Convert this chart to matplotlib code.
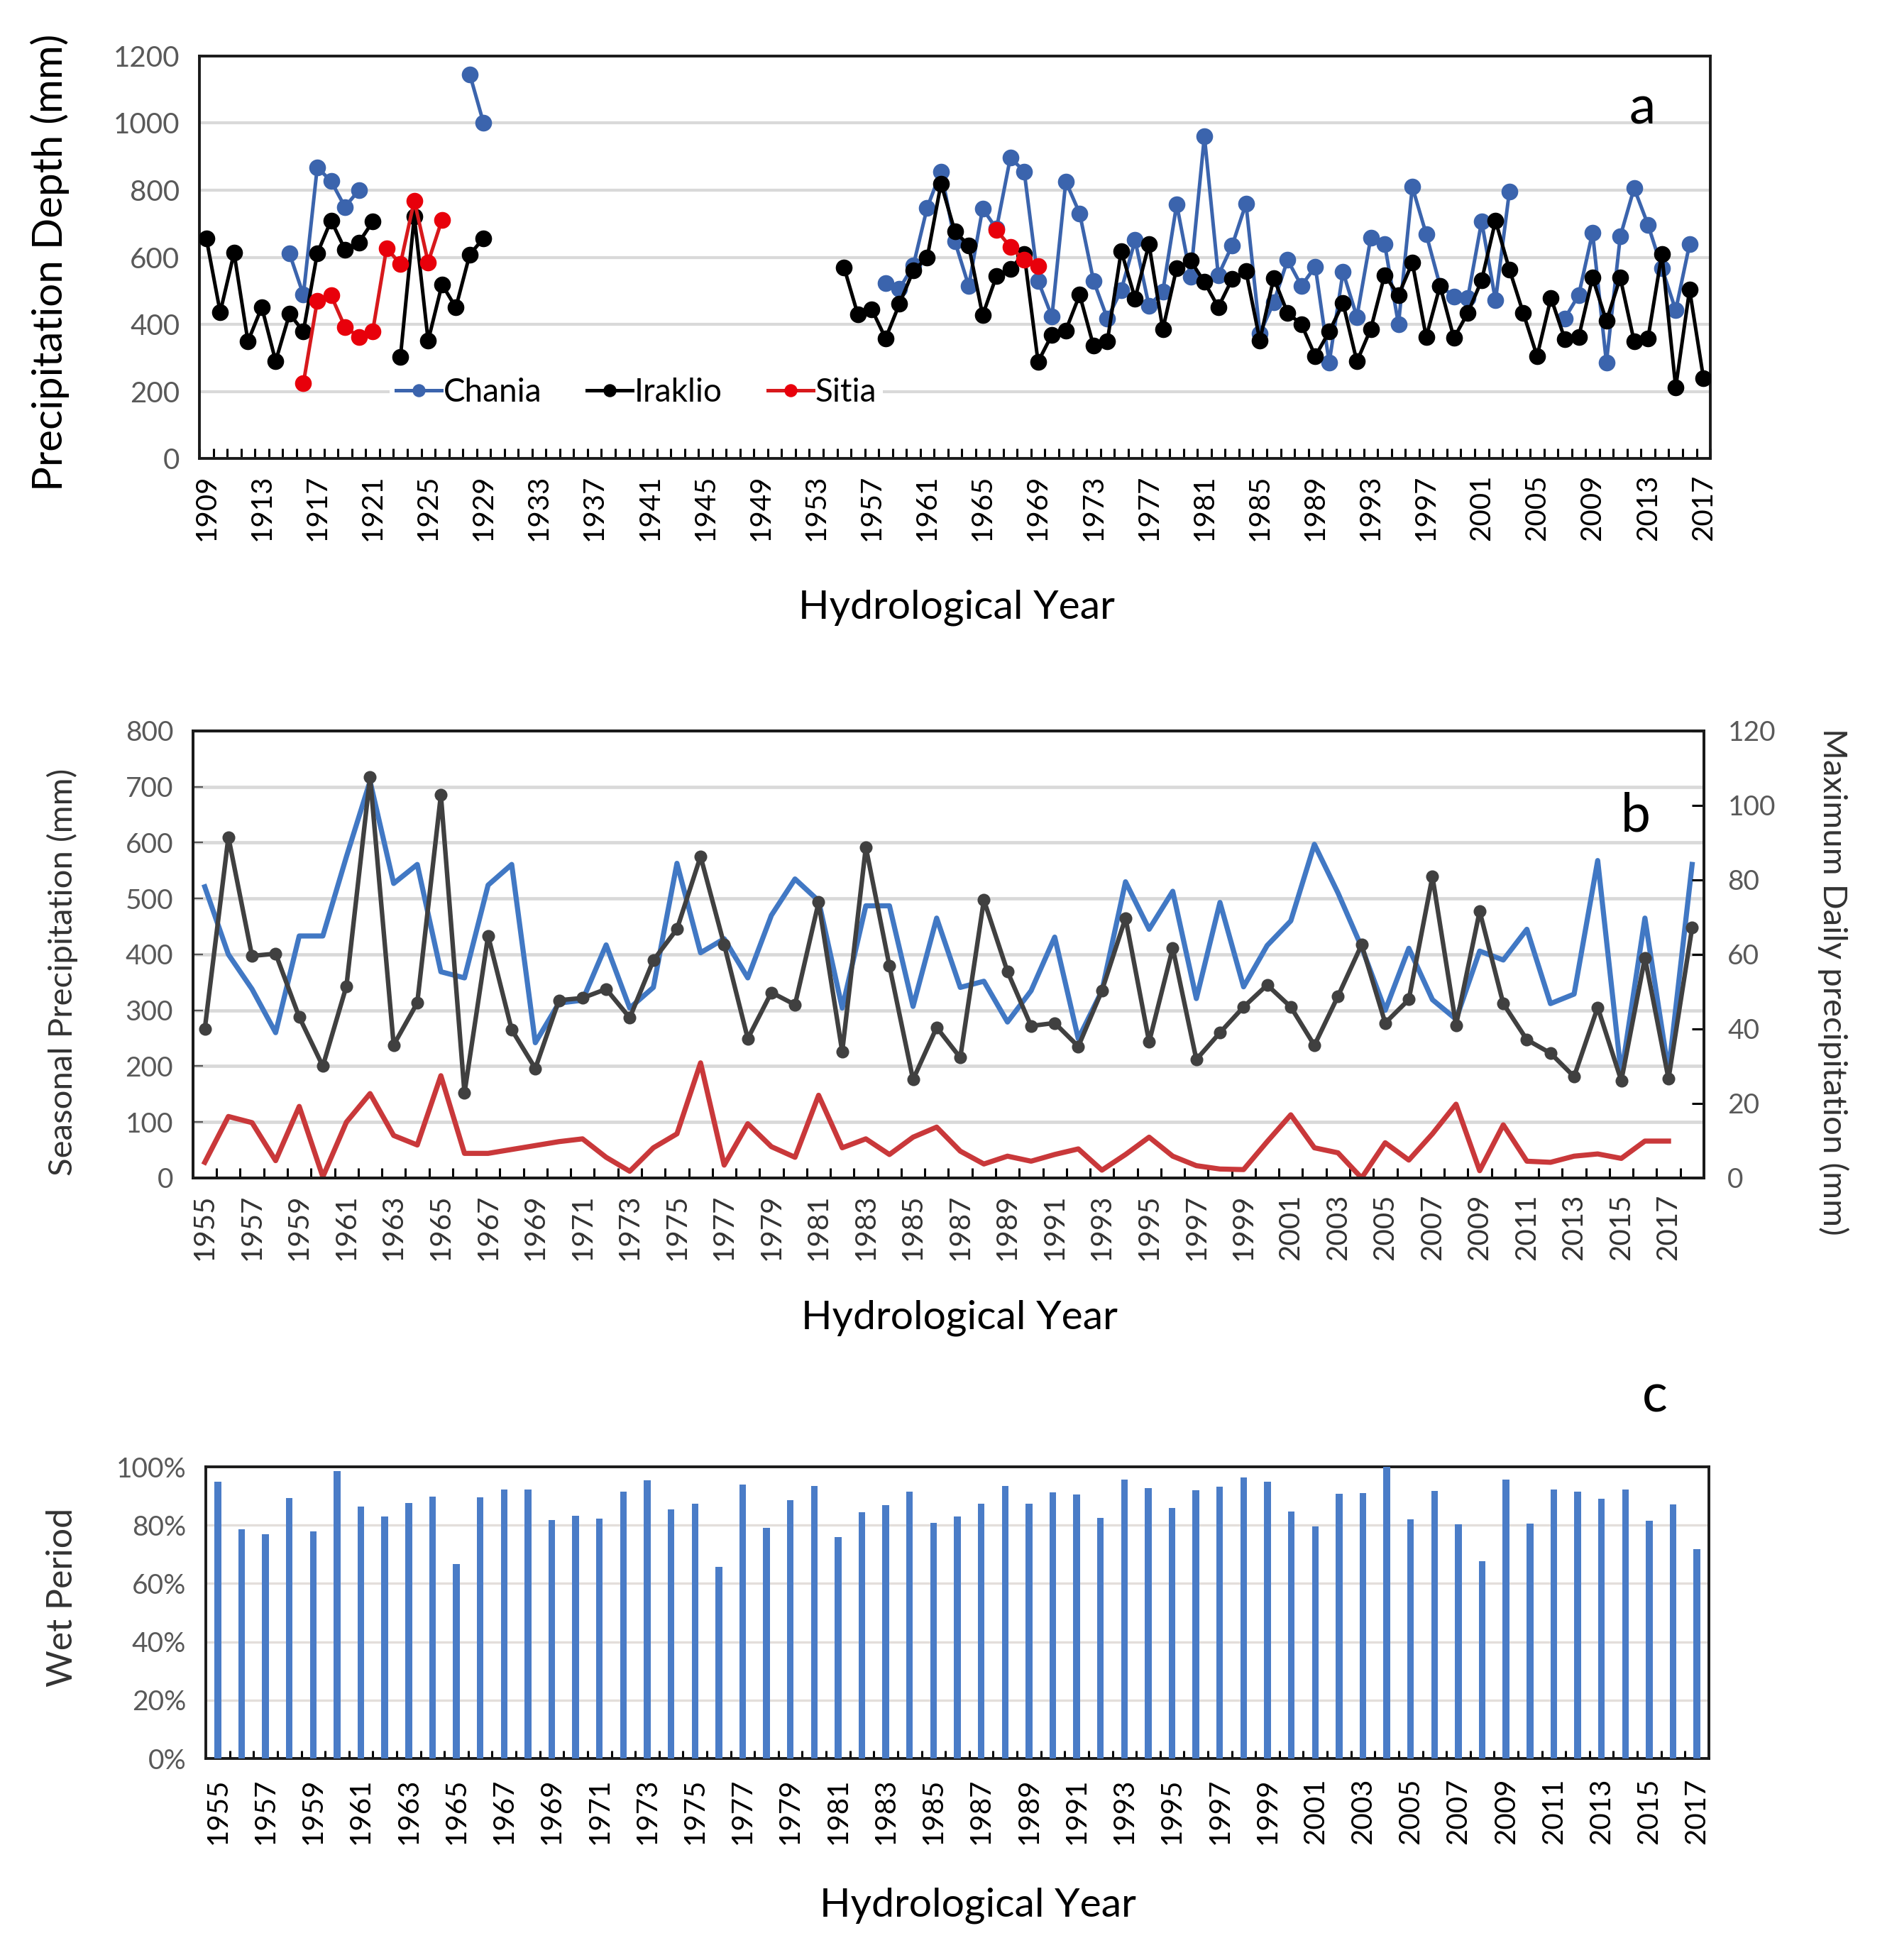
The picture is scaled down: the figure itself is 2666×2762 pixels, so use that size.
import matplotlib
matplotlib.use('Agg')
import matplotlib.pyplot as plt
import numpy as np

plt.rcParams['font.family'] = ['Lato', 'DejaVu Sans']

nan = np.nan

# ---- panel a: annual precipitation depth (mm), 1909-2017
years_a = np.arange(1909, 2018)
iraklio_1909 = [656, 436, 613, 349, 451, 290, 431, 379, 611, 710, 623, 644, 706,
                nan, 302, 722, 351, 519, 450, 608, 657]
iraklio_1955 = [570, 429, 445, 358, 461, 560, 598, 820, 677, 635, 427, 544, 566, 610,
                288, 369, 382, 488, 336, 350, 619, 477, 639, 385, 568, 590, 526, 451,
                535, 558, 352, 538, 434, 400, 305, 378, 463, 289, 386, 547, 487, 584,
                362, 515, 359, 434, 531, 709, 564, 434, 305, 479, 356, 362, 539, 410,
                539, 349, 358, 610, 212, 503, 240]
chania_1915 = [611, 488, 868, 827, 750, 800, nan, nan, nan, nan, nan, nan, nan, 1146, 1000]
chania_1958 = [522, 506, 575, 748, 856, 647, 514, 745, 685, 897, 856, 530, 423, 826,
               731, 530, 417, 502, 651, 455, 498, 758, 542, 961, 546, 635, 760, 373,
               465, 592, 515, 572, 285, 556, 422, 658, 640, 400, 810, 669, 515, 483,
               479, 707, 471, 796, nan, nan, nan, 418, 487, 674, 286, 662, 806, 697,
               568, 442, 639]
sitia_1916 = [224, 470, 486, 392, 363, 379, 627, 580, 769, 585, 712]
sitia_1966 = [681, 631, 592, 574]

# ---- panel b: seasonal precipitation (mm) and max daily precipitation (mm)
years_b = np.arange(1955, 2019)
wet_season = [521, 400, 338, 260, 433, 433, 575, 710, 527, 561, 369, 358, 524, 561,
              242, 313, 318, 417, 304, 341, 563, 403, 428, 358, 470, 535, 496, 304,
              487, 487, 307, 465, 341, 352, 279, 335, 431, 249, 335, 530, 445, 513,
              321, 493, 342, 416, 460, 597, 510, 413, 300, 411, 319, 284, 406, 390,
              445, 312, 329, 568, 184, 465, 190, 561]
max_daily = [40, 91.5, 59.6, 60.2, 43.2, 30, 51.5, 107.7, 35.7, 47, 102.8, 22.8, 65,
             39.8, 29.4, 47.7, 48.3, 50.7, 43, 58.4, 66.8, 86.3, 62.6, 37.4, 49.8,
             46.5, 74, 33.9, 88.8, 56.9, 26.4, 40.4, 32.3, 74.6, 55.4, 40.8, 41.6,
             35.3, 50.3, 69.8, 36.5, 61.7, 31.8, 39, 45.9, 51.8, 45.9, 35.6, 48.8,
             62.6, 41.6, 47.9, 80.9, 41, 71.6, 46.8, 37.1, 33.5, 27.2, 45.8, 26.1,
             59.1, 26.6, 67.2]
dry_season = [28, 110, 99, 31, 128, 2, 100, 151, 76, 59, 183, 44, 44, 51, 58, 65, 70,
              37, 12, 54, 79, 206, 23, 97, 56, 37, 148, 54, 70, 42, 73, 91, 48, 25,
              39, 30, 42, 52, 14, 42, 73, 39, 22, 16, 15, 65, 113, 54, 45, 0, 63, 32,
              79, 132, 13, 95, 30, 28, 39, 43, 35, 66, 66]

# ---- panel c: wet period share (%)
years_c = np.arange(1955, 2018)
wet_period = [94.8, 78.6, 77.0, 89.3, 77.8, 98.5, 86.3, 83.1, 87.7, 89.9, 66.7, 89.5,
              92.3, 92.3, 81.7, 83.3, 82.3, 91.4, 95.4, 85.5, 87.3, 65.7, 94.0, 79.2,
              88.7, 93.4, 76.0, 84.5, 86.9, 91.5, 80.8, 82.9, 87.3, 93.4, 87.3, 91.3,
              90.5, 82.4, 95.6, 92.6, 85.8, 91.9, 93.1, 96.4, 95.0, 84.8, 79.7, 90.7,
              91.0, 100, 81.9, 91.8, 80.2, 67.6, 95.6, 80.6, 92.3, 91.5, 89.1, 92.3,
              81.6, 87.1, 71.8]


def on_years(start, vals):
    s = np.full(len(years_a), np.nan)
    i = start - years_a[0]
    s[i:i + len(vals)] = vals
    return s


iraklio = on_years(1909, iraklio_1909)
iraklio[1955 - 1909:] = iraklio_1955
chania = on_years(1915, chania_1915)
chania[1958 - 1909:1958 - 1909 + len(chania_1958)] = chania_1958
sitia = on_years(1916, sitia_1916)
sitia[1966 - 1909:1966 - 1909 + len(sitia_1966)] = sitia_1966

GRAY_TXT = '#595959'
GRID = '#d9d9d9'

fig = plt.figure(figsize=(13.33, 13.81), dpi=200)


def frame(ax):
    for sp in ax.spines.values():
        sp.set_linewidth(1.4)
        sp.set_color('#1a1a1a')
    ax.set_axisbelow(True)


# ================= panel a
ax = fig.add_axes([0.1054, 0.7661, 0.7986, 0.2053])
frame(ax)
ax.plot(years_a, chania, '-o', color='#3b64ad', lw=1.8, ms=7.5, label='Chania', zorder=3)
ax.plot(years_a, iraklio, '-o', color='black', lw=1.8, ms=7.5, label='Iraklio', zorder=4)
ax.plot(years_a, sitia, '-o', color='#d7191c', mfc='#e8000b', mec='#e8000b', lw=1.8,
        ms=7.5, label='Sitia', zorder=5)
ax.set_xlim(1908.5, 2017.5)
ax.set_ylim(0, 1200)
ax.set_yticks(np.arange(0, 1201, 200))
ax.yaxis.grid(True, color=GRID, lw=1.5)
ax.tick_params(axis='y', length=0, labelsize=14.5, colors=GRAY_TXT, pad=10)
ax.set_xticks(np.arange(1909, 2018, 4))
ax.set_xticklabels([str(y) for y in range(1909, 2018, 4)], rotation=90, fontsize=14.5)
ax.set_xticks(np.arange(1908.5, 2018, 1), minor=True)
ax.tick_params(axis='x', which='major', length=0, pad=8)
ax.tick_params(axis='x', which='minor', direction='in', length=5, width=1.1)
leg = ax.legend(loc='lower left', bbox_to_anchor=(0.115, 0.07), ncol=3, fontsize=16.5,
                frameon=True, facecolor='white', edgecolor='none', framealpha=1,
                handlelength=1.4, handletextpad=0.05, columnspacing=1.4,
                borderpad=0.2, markerscale=0.75)
ax.text(0.955, 0.87, 'a', transform=ax.transAxes, fontsize=27, ha='center', va='center')
fig.text(0.5056, 0.690, 'Hydrological Year', fontsize=20.5, ha='center', va='center')
fig.text(0.0263, 0.866, 'Precipitation Depth (mm)', fontsize=21, rotation=90,
         ha='center', va='center')

# ================= panel b
bx = fig.add_axes([0.102, 0.399, 0.7986, 0.2281])
frame(bx)
bx.plot(years_b, wet_season, color='#4178c4', lw=2.6, zorder=3)
bx.plot(years_c, dry_season, color='#c9383a', lw=2.6, zorder=3)
bx.set_xlim(1954.5, 2018.5)
bx.set_ylim(0, 800)
bx.set_yticks(np.arange(0, 801, 100))
bx.yaxis.grid(True, color=GRID, lw=1.7)
bx.tick_params(axis='y', direction='in', length=5, labelsize=14, colors=GRAY_TXT, pad=10)
bx.set_xticks(np.arange(1955, 2018, 2))
bx.set_xticklabels([str(y) for y in range(1955, 2018, 2)], rotation=90, fontsize=14.5,
                   color='#333333')
bx.set_xticks(np.arange(1955.5, 2018.5, 1), minor=True)
bx.tick_params(axis='x', which='major', length=0, pad=8)
bx.tick_params(axis='x', which='minor', direction='in', length=5, width=1.1)

bx2 = bx.twinx()
bx2.plot(years_b, max_daily, '-o', color='#404040', lw=2.3, ms=5.5, zorder=4)
bx2.set_ylim(0, 120)
bx2.set_yticks(np.arange(0, 121, 20))
bx2.tick_params(axis='y', direction='in', length=6, width=1.1, labelsize=14,
                labelcolor=GRAY_TXT, pad=12)
for sp in bx2.spines.values():
    sp.set_linewidth(1.4)
    sp.set_color('#1a1a1a')
bx2.text(0.955, 0.81, 'b', transform=bx2.transAxes, fontsize=27, ha='center', va='center')
fig.text(0.507, 0.3277, 'Hydrological Year', fontsize=20.5, ha='center', va='center')
fig.text(0.033, 0.504, 'Seasonal Precipitation (mm)', fontsize=17, rotation=90,
         ha='center', va='center', color='#333333')
fig.text(0.969, 0.499, 'Maximum Daily precipitation (mm)', fontsize=17, rotation=270,
         ha='center', va='center', color='#333333')

# ================= panel c
cx = fig.add_axes([0.1088, 0.1028, 0.7944, 0.1488])
frame(cx)
cx.bar(years_c, wet_period, width=0.28, color='#4a7cc7', zorder=3)
cx.set_xlim(1954.5, 2017.5)
cx.set_ylim(0, 100)
cx.set_yticks(np.arange(0, 101, 20))
cx.set_yticklabels([f'{v}%' for v in range(0, 101, 20)])
cx.yaxis.grid(True, color='#e3dedb', lw=1.2)
cx.tick_params(axis='y', length=0, labelsize=14, colors=GRAY_TXT, pad=10)
cx.set_xticks(np.arange(1955, 2018, 2))
cx.set_xticklabels([str(y) for y in range(1955, 2018, 2)], rotation=90, fontsize=14.5)
cx.set_xticks(np.arange(1955.5, 2017.5, 1), minor=True)
cx.tick_params(axis='x', which='major', length=0, pad=10)
cx.tick_params(axis='x', which='minor', direction='in', length=4, width=1.1)
fig.text(0.8747, 0.2875, 'c', fontsize=27, ha='center', va='center')
fig.text(0.517, 0.0279, 'Hydrological Year', fontsize=20.5, ha='center', va='center')
fig.text(0.033, 0.185, 'Wet Period', fontsize=18, rotation=90, ha='center',
         va='center', color='#333333')

fig.savefig('out.png', dpi=200, facecolor='white')
